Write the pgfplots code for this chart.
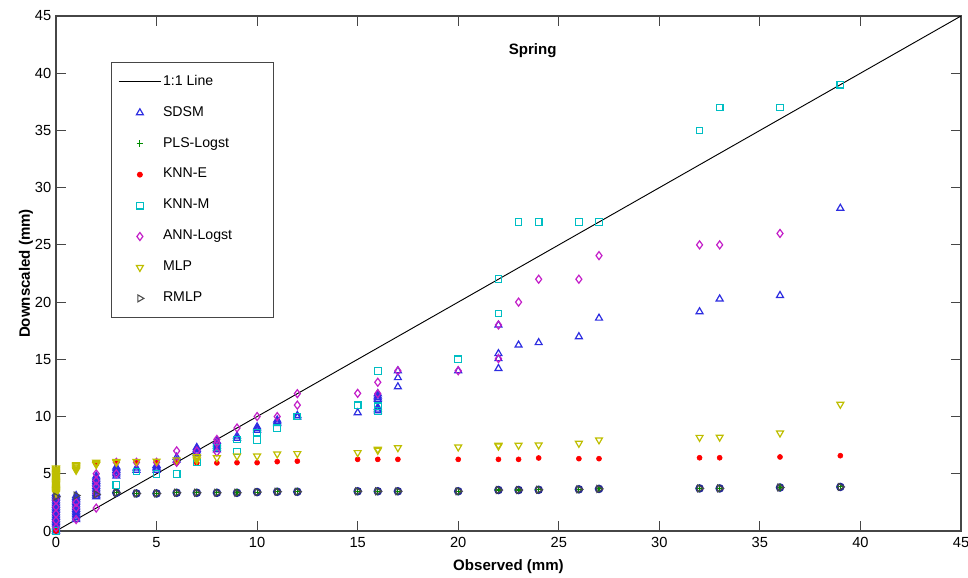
\documentclass[border=0pt]{standalone}
\usepackage{fontspec}
\setmainfont{Liberation Sans}
\usepackage{pgfplots}
\pgfplotsset{compat=1.18}
\definecolor{cSDSM}{RGB}{45,45,225}
\definecolor{cPLS}{RGB}{0,140,0}
\definecolor{cKNNE}{RGB}{255,0,0}
\definecolor{cKNNM}{RGB}{0,190,195}
\definecolor{cANN}{RGB}{195,30,200}
\definecolor{cMLP}{RGB}{190,190,0}
\definecolor{cRMLP}{RGB}{75,75,75}
\definecolor{cNavy}{RGB}{35,40,150}
\definecolor{axgray}{RGB}{70,70,70}
\newcommand{\lt}[1]{\makebox[77pt][l]{#1}}
\begin{document}
\begin{tikzpicture}
\begin{axis}[
  scale only axis, width=678.75pt, height=386.25pt,
  xmin=0, xmax=45, ymin=0, ymax=45,
  xtick={0,5,...,45}, ytick={0,5,...,45},
  tick align=inside, major tick length=7.5pt,
  axis line style={axgray, line width=0.9pt},
  every tick/.style={axgray, line width=0.9pt},
  tick label style={font=\fontsize{11}{13}\selectfont},
  xticklabel style={yshift=-1.5pt},
  /pgf/number format/assume math mode=true,
  xlabel={Observed (mm)}, ylabel={Downscaled (mm)},
  label style={font=\bfseries\fontsize{11.3}{13}\selectfont},
  x label style={at={(axis description cs:0.5,0)}, anchor=center, yshift=-27pt},
  y label style={at={(axis description cs:-0.0331,0.5)}, anchor=center},
  legend style={at={(0.0608,0.9107)}, anchor=north west, draw=axgray, line width=0.6pt,
    inner xsep=5pt, inner ysep=3pt, font=\fontsize{10.6}{12}\selectfont,
    nodes={inner xsep=1pt, inner ysep=6.1pt, text height=8pt, text depth=3pt}, row sep=0pt},
  legend cell align=left,
  legend image code/.code={\draw[mark repeat=2,mark phase=2,#1] plot coordinates {(0pt,0pt) (16pt,0pt) (32pt,0pt)};},
]
\coordinate (bl) at (rel axis cs:0,0);
\coordinate (tr) at (rel axis cs:1,1);

\addplot[black, line width=0.7pt] coordinates {(0,0) (45,45)};
\addlegendentry{\lt{1:1 Line}}

\addplot[forget plot, only marks, mark=o, mark size=2.5pt, cNavy, mark options={line width=1.4pt}] coordinates {
(3,3.34) (4,3.28) (5,3.28) (6,3.34) (7,3.34) (8,3.34) (9,3.34) (10,3.4) (11,3.43) (12,3.43) (15,3.47) (16,3.47) (17,3.47) (20,3.47) (22,3.58) (23,3.58) (24,3.6) (26,3.64) (27,3.68) (32,3.72) (33,3.72) (36,3.8) (39,3.85)};

\addplot[only marks, mark=triangle, mark size=3pt, cSDSM, mark options={line width=0.9pt}] coordinates {
(0,0) (0,0.15) (0,0.3) (0,0.45) (0,0.6) (0,0.75) (0,0.9) (0,1.05) (0,1.2) (0,1.35) (0,1.5) (0,1.65) (0,1.8) (0,1.95) (0,2.1) (0,2.25) (0,2.4) (0,2.55) (0,2.7) (0,2.85) (0,3.0) (0,3.15) (0,3.3)
(1,1.0) (1,1.15) (1,1.3) (1,1.45) (1,1.6) (1,1.75) (1,1.9) (1,2.05) (1,2.2) (1,2.35) (1,2.5) (1,2.65) (1,2.8) (1,2.95) (1,3.1)
(2,3.0) (2,3.15) (2,3.3) (2,3.45) (2,3.6) (2,3.75) (2,3.9) (2,4.05) (2,4.2) (2,4.35) (2,4.5) (2,4.65) (2,4.8)
(3,4.8) (3,5.0) (3,5.15) (3,5.3) (3,5.45) (3,5.6)
(4,5.3) (4,5.5)
(5,5.3) (5,5.45) (5,5.6) (5,5.75)
(6,6.2) (6,6.45)
(7,6.8) (7,7.0) (7,7.15) (7,7.3)
(8,7.1) (8,7.25) (8,7.4) (8,7.55) (8,7.7) (8,7.85)
(9,8.1) (9,8.3)
(10,8.8) (10,8.95) (10,9.1)
(11,9.4) (11,9.55) (11,9.7)
(12,9.95) (12,10.1)
(15,10.34)
(16,10.5) (16,10.65) (16,10.8) (16,11.5) (16,11.65) (16,11.8) (16,12.0)
(17,12.6) (17,13.4) (17,14.0)
(20,14.0)
(22,14.2) (22,15.06) (22,15.5) (22,18.0)
(23,16.25) (24,16.46) (26,16.98) (27,18.6) (32,19.16) (33,20.28) (36,20.58) (39,28.2)};
\addlegendentry{\lt{SDSM}}

\addplot[only marks, mark=+, mark size=2.5pt, cPLS, mark options={line width=0.8pt}] coordinates {
(0,0) (3,3.34) (4,3.28) (5,3.28) (6,3.34) (7,3.34) (8,3.34) (9,3.34) (10,3.4) (11,3.43) (12,3.43) (15,3.47) (16,3.47) (17,3.47) (20,3.47) (22,3.58) (23,3.58) (24,3.6) (26,3.64) (27,3.68) (32,3.72) (33,3.72) (36,3.8) (39,3.85)};
\addlegendentry{\lt{PLS-Logst}}

\addplot[only marks, mark=*, mark size=1.9pt, cKNNE] coordinates {
(0,0) (2,5.85) (3,6.02) (4,6.0) (5,6.0) (6,5.95) (7,5.95) (8,5.95) (9,5.97) (10,5.97) (11,6.06) (12,6.1) (15,6.26) (16,6.26) (17,6.26) (20,6.26) (22,6.26) (23,6.26) (24,6.38) (26,6.32) (27,6.32) (32,6.4) (33,6.4) (36,6.47) (39,6.58)};
\addlegendentry{\lt{KNN-E}}

\addplot[only marks, mark=square, mark size=2.5pt, cKNNM, mark options={line width=0.9pt}] coordinates {
(0,0) (3,4.0) (4,5.2) (5,5.0) (6,5.0) (7,6.0) (8,7.3) (9,6.95) (9,8.0) (10,7.95) (10,8.6) (11,8.97) (12,10.0) (15,10.98) (16,10.5) (16,10.9) (16,14.0) (20,15.0) (22,19.0) (22,22.0) (23,27.0) (24,27.0) (26,27.0) (27,27.0) (32,35.0) (33,37.0) (36,37.0) (39,39.0)};
\addlegendentry{\lt{KNN-M}}

\addplot[only marks, mark=diamond, mark size=3pt, cANN, mark options={line width=0.9pt}] coordinates {
(0,0.3) (0,0.9) (0,1.5) (0,2.1) (0,2.7) (1,1.0) (1,2.0) (1,2.5) (2,2.0) (2,3.3) (2,3.9) (2,4.4) (2,5.0) (3,5.0) (3,6.0) (4,6.0) (5,6.0) (6,6.0) (6,7.0) (7,7.0) (8,6.9) (8,7.7) (8,8.0) (9,9.0) (10,10.0) (11,10.0) (12,11.0) (12,12.0) (15,12.03) (16,12.0) (16,13.0) (17,14.0) (20,14.0) (22,15.06) (22,18.0) (23,20.0) (24,22.0) (26,22.0) (27,24.06) (32,25.0) (33,25.0) (36,26.0)};
\addlegendentry{\lt{ANN-Logst}}

\addplot[only marks, mark=triangle, mark size=3pt, cMLP, mark options={line width=0.9pt, rotate=180}] coordinates {
(0,3.3) (0,3.4) (0,3.5) (0,3.6) (0,3.7) (0,3.8) (0,3.9) (0,4.0) (0,4.1) (0,4.2) (0,4.3) (0,4.4) (0,4.5) (0,4.6) (0,4.7) (0,4.8) (0,4.9) (0,5.0) (0,5.1) (0,5.2) (0,5.3) (0,5.4) (0,5.5)
(1,5.3) (1,5.4) (1,5.5) (1,5.6) (1,5.7) (1,5.8)
(2,5.8) (2,5.9) (2,6.0)
(3,6.0) (3,6.08) (4,6.08) (5,6.1) (6,6.2) (7,6.2) (7,6.35) (7,6.5) (8,6.4) (9,6.55) (10,6.55) (11,6.73) (12,6.76) (15,6.85) (16,7.05) (16,7.14) (17,7.28) (20,7.34) (22,7.42) (22,7.5) (23,7.49) (24,7.52) (26,7.66) (27,7.96) (32,8.18) (33,8.2) (36,8.56) (39,11.07)};
\addlegendentry{\lt{MLP}}

\addplot[only marks, mark=triangle, mark size=3pt, cRMLP, mark options={line width=0.8pt, rotate=-90}] coordinates {
(0,3.0) (1,3.1) (2,3.2) (3,3.34) (4,3.28) (5,3.28) (6,3.34) (7,3.34) (8,3.34) (9,3.34) (10,3.4) (11,3.43) (12,3.43) (15,3.47) (16,3.47) (17,3.47) (20,3.47) (22,3.58) (23,3.58) (24,3.6) (26,3.64) (27,3.68) (32,3.72) (33,3.72) (36,3.8) (39,3.85)};
\addlegendentry{\lt{RMLP}}

\node[font=\bfseries\fontsize{11.3}{13}\selectfont] at (axis cs:23.7,42.0) {Spring};
\end{axis}
\pgfresetboundingbox
\path ([shift={(-42pt,-35.25pt)}]bl) rectangle ([shift={(5.25pt,12pt)}]tr);
\end{tikzpicture}
\end{document}
